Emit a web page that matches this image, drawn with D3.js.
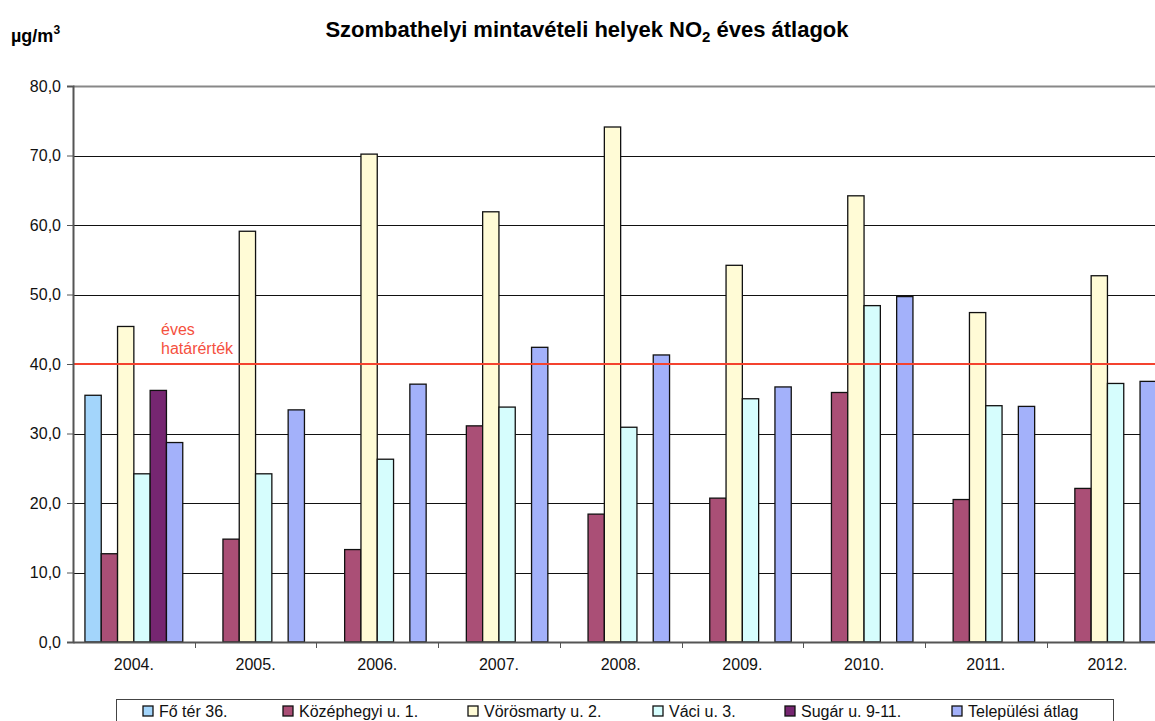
<!DOCTYPE html>
<html><head><meta charset="utf-8">
<script src="https://cdn.jsdelivr.net/npm/d3@7"></script>
<style>body{margin:0;background:#fff;}svg{display:block;font-family:"Liberation Sans",Arial,sans-serif;}</style>
</head><body><svg id="c" width="1155" height="721"></svg>
<script>
const years = ["2004.","2005.","2006.","2007.","2008.","2009.","2010.","2011.","2012."];
const seriesNames = ["Fő tér 36.","Középhegyi u. 1.","Vörösmarty u. 2.","Váci u. 3.","Sugár u. 9-11.","Települési átlag"];
const foTer      = [35.5, null, null, null, null, null, null, null, null];
const kozephegyi = [12.7, 14.8, 13.3, 31.1, 18.4, 20.7, 35.9, 20.5, 22.1];
const vorosmarty = [45.4, 59.1, 70.2, 61.9, 74.1, 54.2, 64.2, 47.4, 52.7];
const vaci       = [24.2, 24.2, 26.3, 33.8, 30.9, 35.0, 48.4, 34.0, 37.2];
const sugar      = [36.2, null, null, null, null, null, null, null, null];
const telepulesi = [28.7, 33.4, 37.1, 42.4, 41.3, 36.7, 49.7, 33.9, 37.5];
const yTicks = [0,10,20,30,40,50,60,70,80];
const limitValue = 40;
const colors = ["#a3d5fb","#aa4f76","#fffbd6","#d6fdfd","#762671","#a3b1fa"];
const seriesValues = [foTer,kozephegyi,vorosmarty,vaci,sugar,telepulesi];

const svg = d3.select("#c");
const pLeft = 73, pTop = 86, pBottom = 642, catW = 121.7;
const x0 = d3.scaleBand().domain(years).range([pLeft, pLeft + catW*years.length]).padding(0);
const x1 = d3.scaleBand().domain(seriesNames).range([0, x0.bandwidth()]).paddingInner(0).paddingOuter(0.733);
const y = d3.scaleLinear().domain([0,80]).range([pBottom, pTop]);

// gridlines
svg.append("g").selectAll("line").data(yTicks.filter(d=>d>0)).join("line")
  .attr("x1", pLeft).attr("x2", 1155)
  .attr("y1", d=>Math.round(y(d))+0.5).attr("y2", d=>Math.round(y(d))+0.5)
  .attr("stroke", d=>d===80?"#888":"#111").attr("stroke-width", d=>d===80?2:1);

// bars
const data = [];
years.forEach((yr,i)=>seriesNames.forEach((s,j)=>{ const v = seriesValues[j][i]; if(v!=null) data.push({yr,s,v,j}); }));
svg.append("g").selectAll("rect").data(data).join("rect")
  .attr("x", d=>x0(d.yr)+x1(d.s))
  .attr("y", d=>y(d.v))
  .attr("width", x1.bandwidth())
  .attr("height", d=>pBottom - y(d.v))
  .attr("fill", d=>colors[d.j])
  .attr("stroke", "#111").attr("stroke-width", 1.3);

// limit line
svg.append("line").attr("x1", pLeft).attr("x2", 1155)
  .attr("y1", y(limitValue)).attr("y2", y(limitValue))
  .attr("stroke", "#f4432f").attr("stroke-width", 2);
svg.append("text").attr("x", 161).attr("y", 335).attr("fill","#f5503e").attr("font-size",16).text("éves");
svg.append("text").attr("x", 161).attr("y", 354).attr("fill","#f5503e").attr("font-size",16).text("határérték");

// y axis
const ya = d3.axisLeft(y).tickValues(yTicks).tickSize(6).tickFormat(d=>d3.format(".1f")(d).replace(".",","));
const gy = svg.append("g").attr("transform",`translate(${pLeft},0)`).call(ya);
gy.select(".domain").attr("stroke","#555").attr("stroke-width",2);
gy.selectAll(".tick line").attr("stroke","#555");
gy.selectAll(".tick text").attr("font-size",16).attr("fill","#111").attr("font-family","Liberation Sans, Arial, sans-serif").attr("x",-12);

// x axis
const xa = d3.axisBottom(x0).tickSize(0).tickPadding(17);
const gx = svg.append("g").attr("transform",`translate(0,${pBottom})`).call(xa);
gx.select(".domain").attr("stroke","#555").attr("stroke-width",2);
gx.selectAll(".tick text").attr("font-size",16).attr("fill","#111").attr("font-family","Liberation Sans, Arial, sans-serif");
svg.append("g").selectAll("line").data(years.slice(1)).join("line")
  .attr("x1", d=>Math.round(x0(d))+0.5).attr("x2", d=>Math.round(x0(d))+0.5)
  .attr("y1", pBottom).attr("y2", pBottom+6).attr("stroke","#555");

// title
const t = svg.append("text").attr("x", 587).attr("y", 37).attr("text-anchor","middle")
  .attr("font-size",22).attr("font-weight","bold").attr("fill","#000");
t.append("tspan").text("Szombathelyi mintavételi helyek NO");
t.append("tspan").attr("font-size",15).attr("dy",5).text("2");
t.append("tspan").attr("dy",-5).text(" éves átlagok");

const u = svg.append("text").attr("x", 11).attr("y", 42).attr("font-size",18).attr("font-weight","bold").attr("fill","#000");
u.append("tspan").text("µg/m");
u.append("tspan").attr("font-size",12).attr("dy",-8).text("3");

// legend
svg.append("rect").attr("x",116.5).attr("y",699.5).attr("width",997).attr("height",40)
  .attr("fill","none").attr("stroke","#444").attr("stroke-width",1);
const legX = [143, 283, 468, 653, 785, 952];
const lg = svg.append("g").selectAll("g").data(seriesNames).join("g")
  .attr("transform",(d,i)=>`translate(${legX[i]},706)`);
lg.append("rect").attr("width",10).attr("height",10).attr("fill",(d,i)=>colors[i]).attr("stroke","#111").attr("stroke-width",1.3);
lg.append("text").attr("x",16).attr("y",11).attr("font-size",16).attr("fill","#111").text(d=>d);
</script></body></html>
